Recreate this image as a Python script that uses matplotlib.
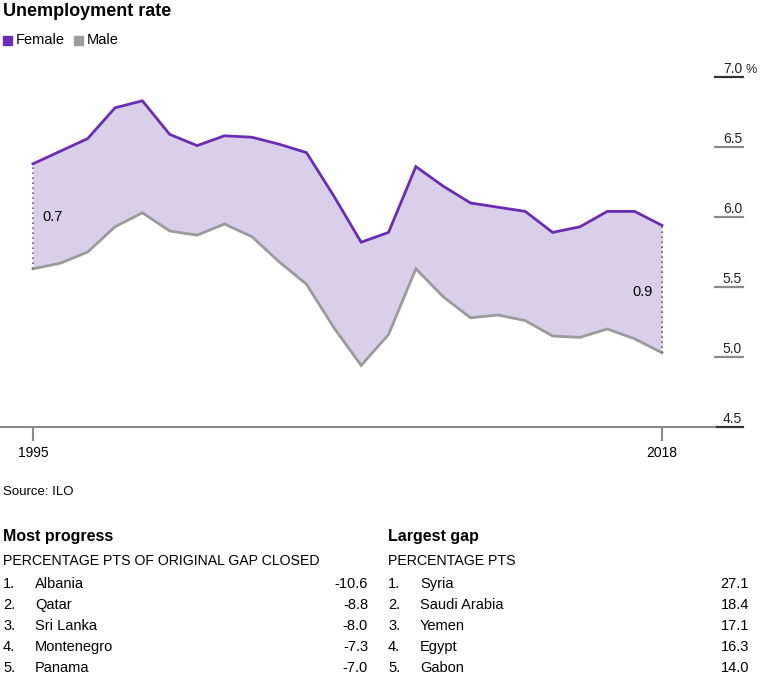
import matplotlib

matplotlib.use("Agg")
import matplotlib.pyplot as plt
from matplotlib.transforms import blended_transform_factory

plt.rcParams["font.family"] = ["Liberation Sans", "DejaVu Sans"]

years = list(range(1995, 2019))
female = [6.38, 6.47, 6.56, 6.78, 6.83, 6.59, 6.51, 6.58, 6.57, 6.52, 6.46, 6.15,
          5.82, 5.89, 6.36, 6.22, 6.10, 6.07, 6.04, 5.89, 5.93, 6.04, 6.04, 5.94]
male = [5.63, 5.67, 5.75, 5.93, 6.03, 5.90, 5.87, 5.95, 5.86, 5.68, 5.52, 5.21,
        4.94, 5.16, 5.63, 5.43, 5.28, 5.30, 5.26, 5.15, 5.14, 5.20, 5.13, 5.03]
y_ticks = [4.5, 5.0, 5.5, 6.0, 6.5, 7.0]
x_ticks = [1995, 2018]
gap_labels = ["0.7", "0.9"]

progress_countries = ["Albania", "Qatar", "Sri Lanka", "Montenegro", "Panama"]
progress_values = ["-10.6", "-8.8", "-8.0", "-7.3", "-7.0"]
gap_countries = ["Syria", "Saudi Arabia", "Yemen", "Egypt", "Gabon"]
gap_values = ["27.1", "18.4", "17.1", "16.3", "14.0"]

PURPLE = "#6a2db4"
GREY = "#9b9b9b"
FILL = "#d9cfe9"
W, H = 760, 681


def fx(px):
    return px / W


def fy(py):
    return 1 - py / H


fig = plt.figure(figsize=(W / 100, H / 100), dpi=100)
ax = fig.add_axes([0, fy(427), fx(743), (427 - 77) / H])

px_per_year = (662 - 33) / 23
ax.set_xlim(1995 - 33 / px_per_year, 1995 + (743 - 33) / px_per_year)
ax.set_ylim(4.5, 7.0)

ax.fill_between(years, male, female, color=FILL, lw=0)
ax.plot(years, female, color=PURPLE, lw=2, solid_joinstyle="miter")
ax.plot(years, male, color=GREY, lw=2, solid_joinstyle="miter")
for i in (0, -1):
    ax.vlines(years[i], male[i], female[i], colors="#666666", lw=1.2,
              linestyles=(0, (1, 2)))

ax.text(years[0] + 9 / px_per_year, (female[0] + male[0]) / 2 - 0.005, gap_labels[0],
        fontsize=10.5, ha="left", va="center")
ax.text(years[-1] - 9 / px_per_year, (female[-1] + male[-1]) / 2 - 0.02, gap_labels[1],
        fontsize=10.5, ha="right", va="center")

for s in ("top", "right", "left"):
    ax.spines[s].set_visible(False)
ax.spines["bottom"].set_bounds(ax.get_xlim()[0], 1995 + (715 - 33) / px_per_year)
ax.spines["bottom"].set_color("#8a8a8a")
ax.spines["bottom"].set_linewidth(1.5)
ax.set_yticks([])
ax.set_xticks(x_ticks)
ax.set_xticklabels([str(y) for y in x_ticks], fontsize=10)
ax.tick_params(axis="x", length=10, width=1.5, color="#8a8a8a", pad=4)
ax.patch.set_alpha(0)

ty = blended_transform_factory(ax.transAxes, ax.transData)
for v in y_ticks:
    dark = v in (y_ticks[0], y_ticks[-1])
    ax.plot([715 / 743, 1.0], [v, v], transform=ty, clip_on=False,
            color="#333333" if dark else "#8a8a8a", lw=1.6)
    ax.text(742 / 743, v + 0.01, f"{v:.1f}", transform=ty, ha="right", va="bottom",
            fontsize=10, color="#222222")
ax.text(746 / 743, y_ticks[-1] + 0.01, "%", transform=ty, ha="left", va="bottom",
        fontsize=9, color="#222222")

# title and legend
fig.text(fx(3), fy(12), "Unemployment rate", fontsize=13, fontweight="bold", va="center")
fig.patches.append(plt.Rectangle((fx(3), fy(45)), 9 / W, 9 / H, color=PURPLE,
                                 transform=fig.transFigure))
fig.text(fx(16), fy(40), "Female", fontsize=10.5, va="center")
fig.patches.append(plt.Rectangle((fx(74), fy(45)), 9 / W, 9 / H, color=GREY,
                                 transform=fig.transFigure))
fig.text(fx(87), fy(40), "Male", fontsize=10.5, va="center")

fig.text(fx(3), fy(492), "Source: ILO", fontsize=9.5, va="center")

# ranking tables
tables = [
    (3, 368, "Most progress", "PERCENTAGE PTS OF ORIGINAL GAP CLOSED",
     progress_countries, progress_values),
    (388, 749, "Largest gap", "PERCENTAGE PTS", gap_countries, gap_values),
]
for x0, x1, head, sub, names, vals in tables:
    fig.text(fx(x0), fy(537), head, fontsize=11.5, fontweight="bold", va="center")
    fig.text(fx(x0), fy(561), sub, fontsize=10.2, va="center")
    for i, (n, v) in enumerate(zip(names, vals)):
        yy = fy(584 + 21 * i)
        fig.text(fx(x0), yy, f"{i + 1}.", fontsize=10.5, va="center")
        fig.text(fx(x0 + 32), yy, n, fontsize=10.5, va="center")
        fig.text(fx(x1), yy, v, fontsize=10.5, va="center", ha="right")

fig.savefig("out.png", dpi=100)
